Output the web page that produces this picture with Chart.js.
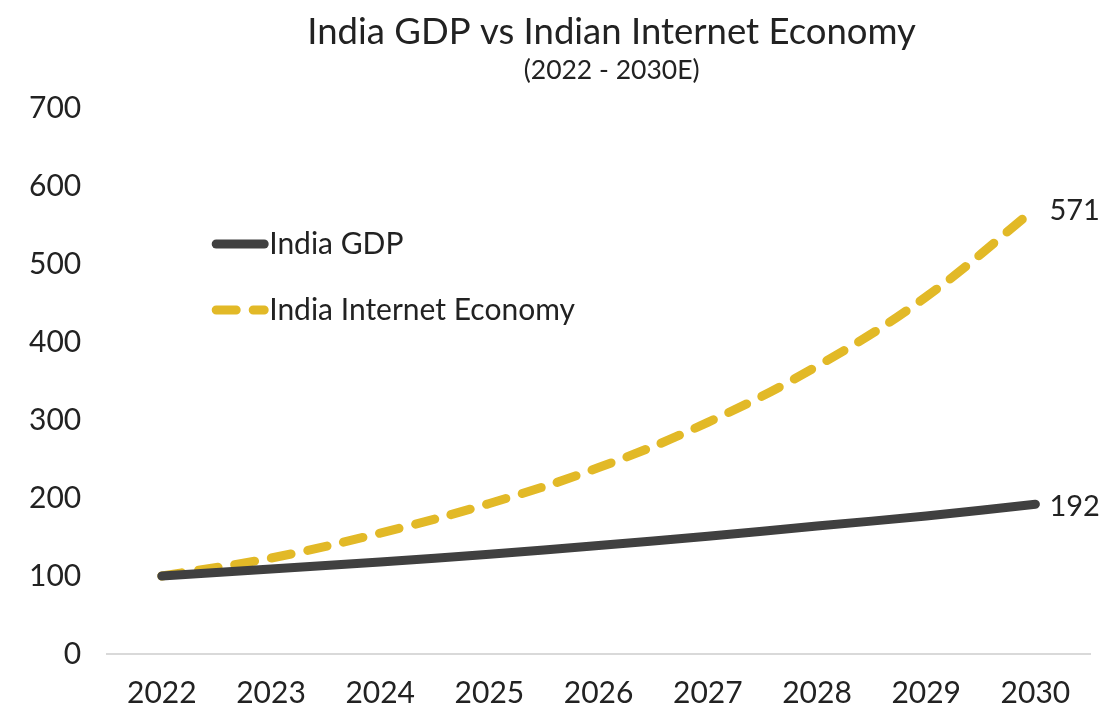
<!DOCTYPE html>
<html>
<head>
<meta charset="utf-8">
<script src="https://cdn.jsdelivr.net/npm/chart.js@4"></script>
<style>
html,body{margin:0;padding:0;background:#fff;}
#wrap{width:1120px;height:720px;}
</style>
</head>
<body>
<div id="wrap"><canvas id="c" width="1120" height="720"></canvas></div>
<script>
const years = ['2022','2023','2024','2025','2026','2027','2028','2029','2030'];
const gdp = [100, 109, 118, 128, 139, 151, 164, 177, 192];
const internet = [100, 123, 155, 193, 239, 297, 369, 458, 571];
const seriesNames = ['India GDP', 'India Internet Economy'];
const yTicks = [0,100,200,300,400,500,600,700];
const titleText = 'India GDP vs Indian Internet Economy';
const subtitleText = '(2022 - 2030E)';

const FONT = 'Lato, "Noto Sans", sans-serif';

const titlePlugin = {
  id: 'customTitle',
  afterDraw(chart) {
    const ctx = chart.ctx;
    const cx = (chart.chartArea.left + chart.chartArea.right) / 2 + 13;
    ctx.save();
    ctx.fillStyle = '#222';
    ctx.textAlign = 'center';
    ctx.textBaseline = 'middle';
    ctx.font = '36.5px ' + FONT;
    ctx.fillText(titleText, cx, 32);
    ctx.font = '26.5px ' + FONT;
    ctx.fillText(subtitleText, cx, 70);
    ctx.restore();
  }
};

const legendPlugin = {
  id: 'customLegend',
  afterDatasetsDraw(chart) {
    const ctx = chart.ctx;
    const x0 = chart.chartArea.left + 105;
    const items = chart.data.datasets;
    items.forEach((ds, i) => {
      const y = chart.chartArea.top + 136 + i * 66;
      ctx.save();
      ctx.strokeStyle = ds.borderColor;
      ctx.lineWidth = ds.borderWidth;
      ctx.lineCap = 'round';
      ctx.setLineDash(ds.borderDash || []);
      ctx.beginPath();
      ctx.moveTo(x0 + 4, y);
      ctx.lineTo(x0 + 52, y);
      ctx.stroke();
      ctx.setLineDash([]);
      ctx.fillStyle = '#222';
      ctx.font = '30px ' + FONT;
      ctx.textBaseline = 'middle';
      ctx.textAlign = 'left';
      ctx.fillText(ds.label, x0 + 57, y);
      ctx.restore();
    });
  }
};

const endLabelPlugin = {
  id: 'endLabels',
  afterDatasetsDraw(chart) {
    const ctx = chart.ctx;
    chart.data.datasets.forEach((ds, i) => {
      const meta = chart.getDatasetMeta(i);
      const last = meta.data[meta.data.length - 1];
      const v = ds.data[ds.data.length - 1];
      ctx.save();
      ctx.fillStyle = '#222';
      ctx.font = '29px ' + FONT;
      ctx.textBaseline = 'middle';
      ctx.textAlign = 'left';
      ctx.fillText(String(v), last.x + 14, last.y + 2);
      ctx.restore();
    });
  }
};

new Chart(document.getElementById('c'), {
  type: 'line',
  data: {
    labels: years,
    datasets: [
      {
        label: seriesNames[0],
        data: gdp,
        borderColor: '#404040',
        borderWidth: 9,
        borderCapStyle: 'round',
        pointRadius: 0,
        tension: 0.4,
        fill: false
      },
      {
        label: seriesNames[1],
        data: internet,
        borderColor: '#E2B927',
        borderWidth: 9,
        borderDash: [20, 17],
        borderCapStyle: 'round',
        pointRadius: 0,
        tension: 0.4,
        fill: false
      }
    ]
  },
  options: {
    responsive: false,
    animation: false,
    devicePixelRatio: 1,
    layout: { padding: { left: 3, right: 30, top: 108, bottom: -12 } },
    plugins: {
      legend: { display: false },
      tooltip: { enabled: false },
      title: { display: false }
    },
    scales: {
      x: {
        offset: true,
        grid: { display: false, drawTicks: false },
        border: { display: true, color: '#d9d9d9', width: 2 },
        ticks: {
          color: '#222',
          font: { family: FONT, size: 30 },
          padding: 21,
          maxRotation: 0
        }
      },
      y: {
        min: 0,
        max: 700,
        afterBuildTicks(axis) { axis.ticks = yTicks.map(v => ({ value: v })); },
        grid: { display: false, drawTicks: false },
        border: { display: false },
        ticks: {
          color: '#222',
          font: { family: FONT, size: 30 },
          padding: 26
        }
      }
    }
  },
  plugins: [titlePlugin, legendPlugin, endLabelPlugin]
});
</script>
</body>
</html>
